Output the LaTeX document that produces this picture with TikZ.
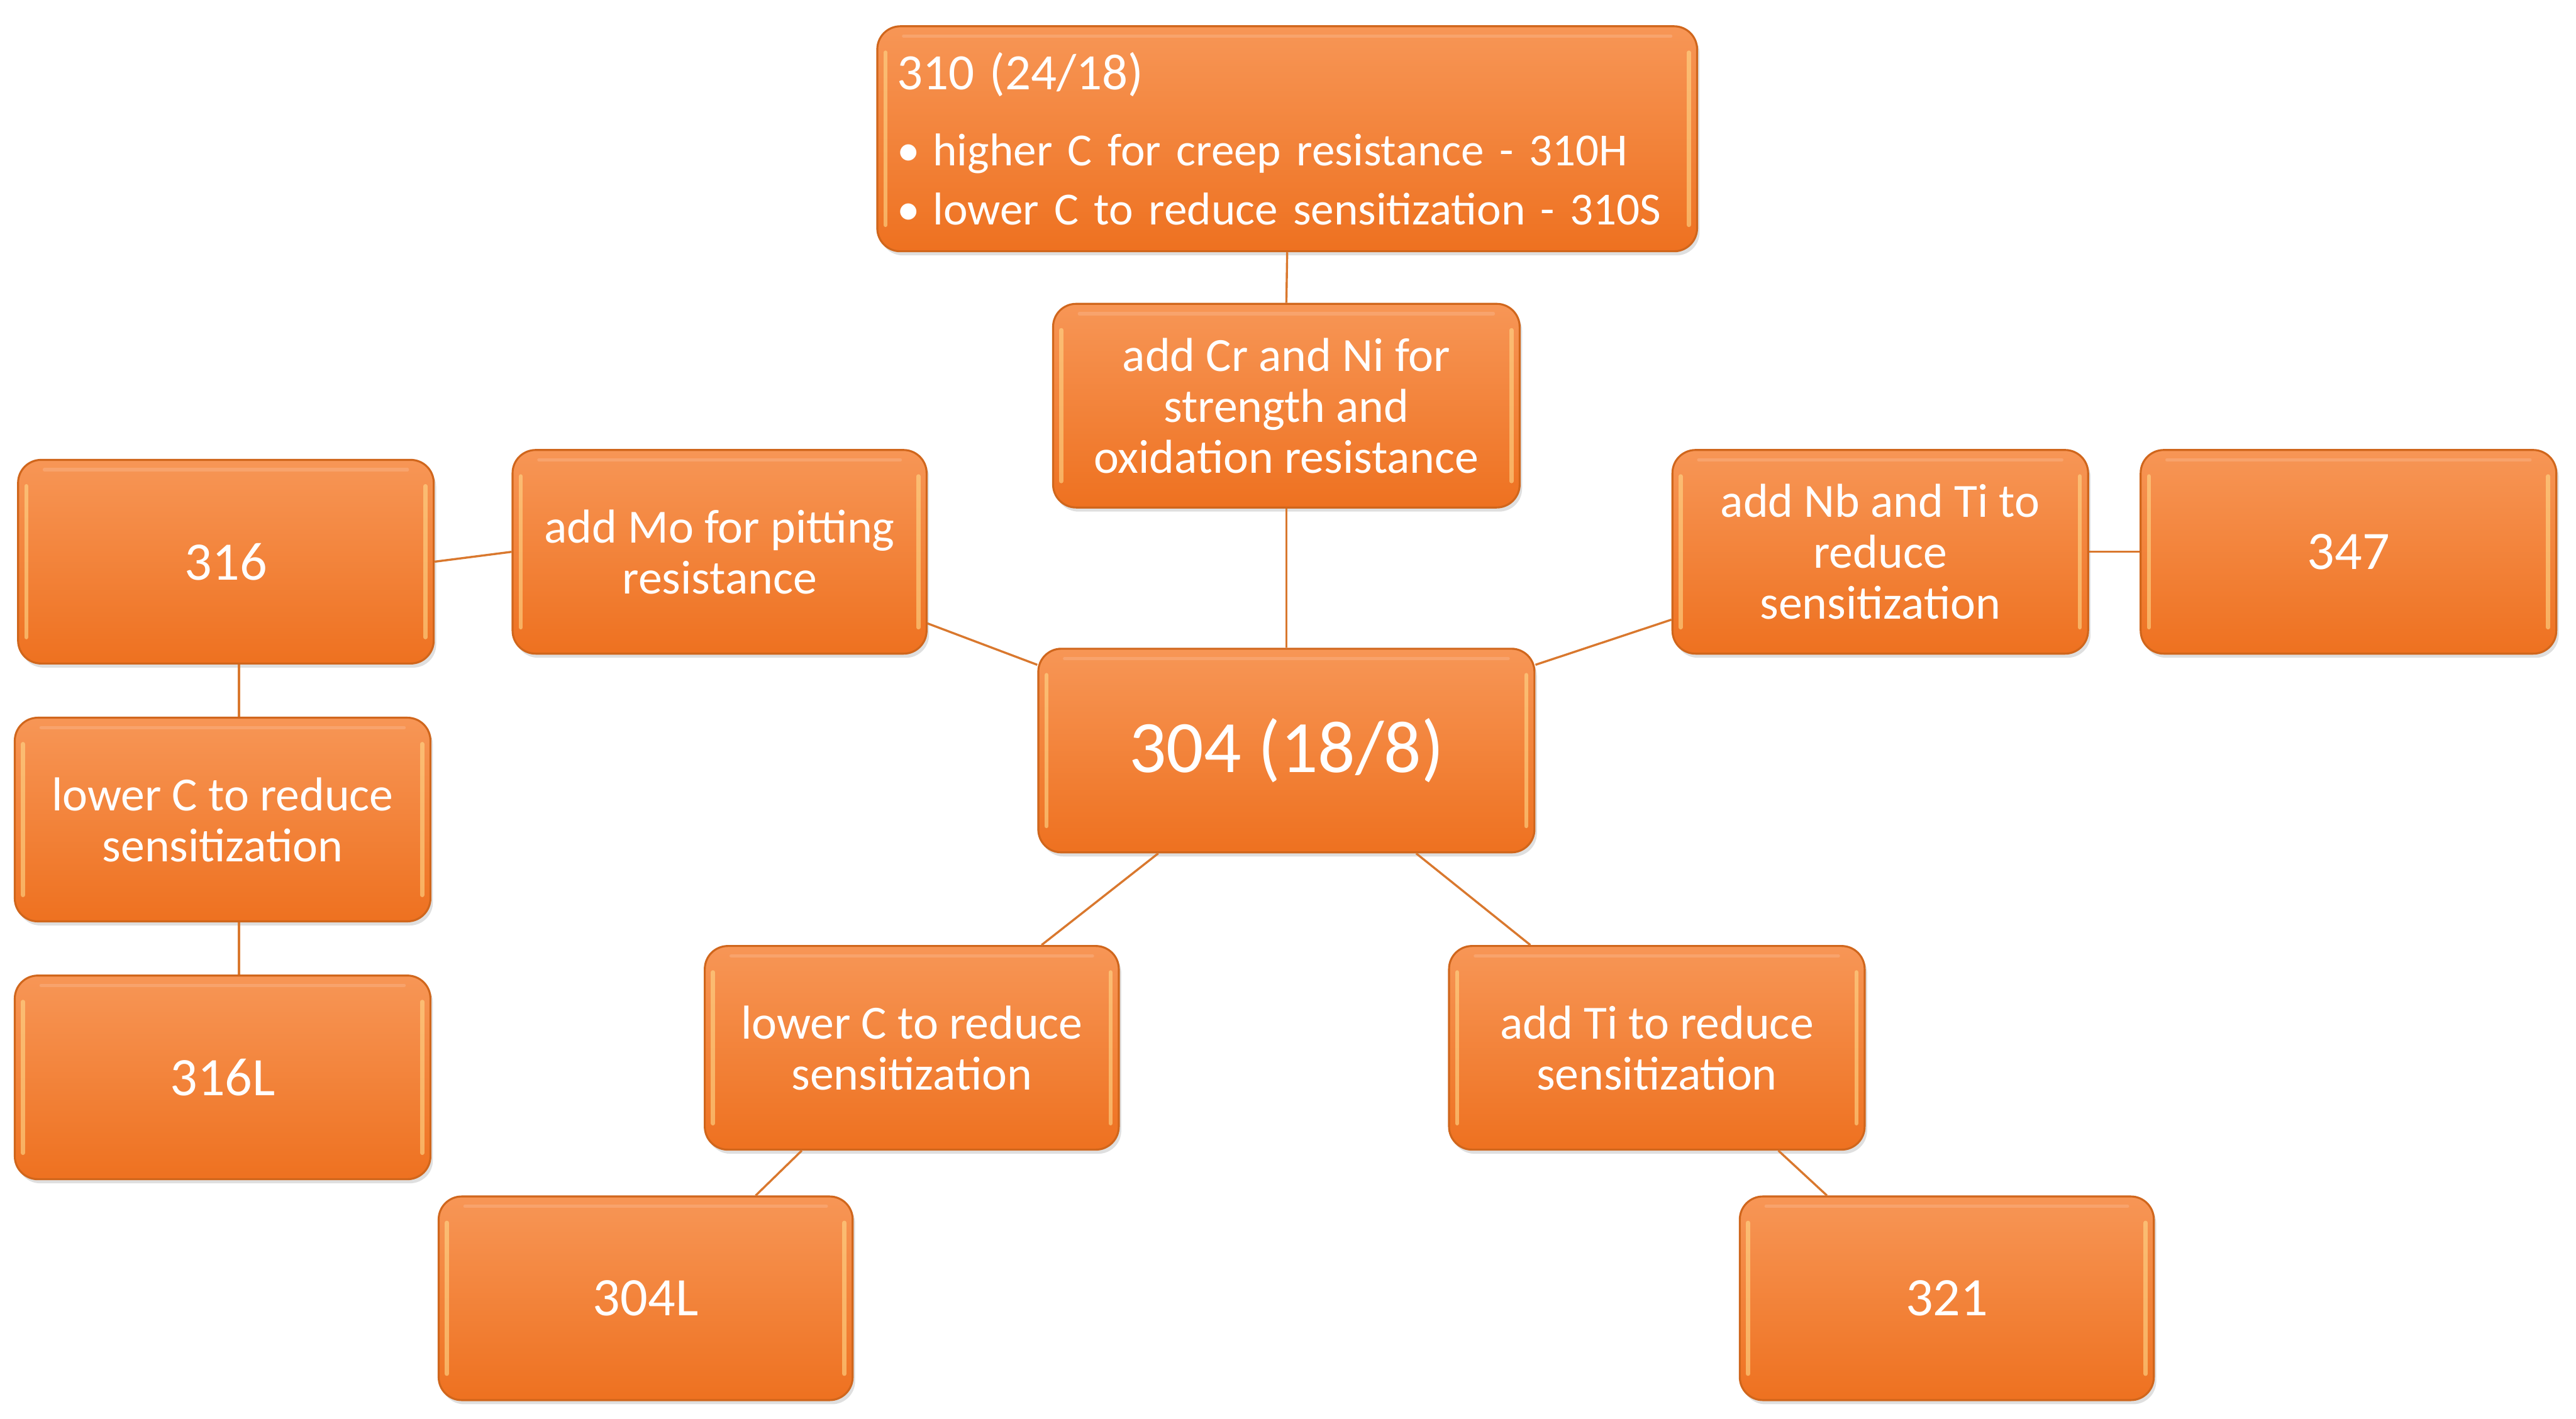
\documentclass[tikz,border=0pt]{standalone}
\usepackage{fontspec}
\setmainfont{Carlito}
\usetikzlibrary{shadows}
\definecolor{boxtop}{HTML}{F79656}
\definecolor{boxbot}{HTML}{EE7120}
\definecolor{boxedge}{HTML}{D0661C}
\definecolor{linkc}{HTML}{D9782E}
\definecolor{glow}{HTML}{FFD98A}
\begin{document}
\begin{tikzpicture}[x=1pt,y=-1pt,
  obox/.style={rounded corners=14pt, top color=boxtop, bottom color=boxbot,
    draw=boxedge, line width=1.2pt, text=white, align=center, inner sep=0pt,
    minimum width=252pt, minimum height=124pt,
    font=\fontsize{29}{31}\selectfont,
    drop shadow={shadow xshift=1.5pt, shadow yshift=-2.5pt, opacity=0.25},
    path picture={
      \draw[glow, line width=2.5pt, opacity=0.6, line cap=round]
        ([shift={(5pt,-16pt)}]path picture bounding box.north west) --
        ([shift={(5pt,16pt)}]path picture bounding box.south west);
      \draw[glow, line width=2.5pt, opacity=0.6, line cap=round]
        ([shift={(-5pt,-16pt)}]path picture bounding box.north east) --
        ([shift={(-5pt,16pt)}]path picture bounding box.south east);
      \draw[white, line width=2pt, opacity=0.15, line cap=round]
        ([shift={(16pt,-6pt)}]path picture bounding box.north west) --
        ([shift={(-16pt,-6pt)}]path picture bounding box.north east);
    }},
  numbox/.style={obox, font=\fontsize{33}{38}\selectfont},
  link/.style={draw=linkc, line width=1.3pt}
]
\useasboundingbox (0,0) rectangle (1568,864);

\node[obox, minimum width=499pt, minimum height=137pt, align=left, text width=475pt,
  font=\fontsize{28}{36}\selectfont] (n310) at (783.5,84.5)
  {{\fontsize{31}{36}\selectfont 310 (24/18)}\\[10pt]
   •\hspace{8pt}higher C for creep resistance - 310H\\
   •\hspace{8pt}lower C to reduce sensitization - 310S};
\node[obox, minimum width=284pt] (crni) at (783,247) {add Cr and Ni for\\strength and\\oxidation resistance};
\node[obox, minimum width=302pt, font=\fontsize{45}{50}\selectfont] (c304) at (783,457) {304 (18/8)};
\node[obox] (mo) at (438,336) {add Mo for pitting\\resistance};
\node[numbox, minimum width=253pt] (s316) at (137.5,342) {316};
\node[obox, minimum width=253pt] (lcl) at (135.5,499) {lower C to reduce\\sensitization};
\node[numbox, minimum width=253pt] (s316L) at (135.5,656) {316L};
\node[obox] (lcc) at (555,638) {lower C to reduce\\sensitization};
\node[numbox] (s304L) at (393,790.5) {304L};
\node[obox, minimum width=253pt] (ti) at (1008.5,638) {add Ti to reduce\\sensitization};
\node[numbox] (s321) at (1185,790.5) {321};
\node[obox, minimum width=253pt] (nbti) at (1144.5,336) {add Nb and Ti to\\reduce\\sensitization};
\node[numbox, minimum width=253pt] (s347) at (1429.5,336) {347};

\path[link] (n310.south) -- (crni.north);
\path[link] (crni.south) -- (c304.north);
\path[link] (c304.161) -- (mo.-19);
\path[link] (mo.west) -- (s316.east);
\path[link] ([xshift=8pt]s316.south) -- ([xshift=8pt]s316.south |- lcl.north);
\path[link] ([xshift=10pt]lcl.south) -- ([xshift=10pt]lcl.south |- s316L.north);
\path[link] ([xshift=-78pt]c304.south) -- ([xshift=79pt]lcc.north);
\path[link] ([xshift=-67pt]lcc.south) -- ([xshift=67pt]s304L.north);
\path[link] ([xshift=79pt]c304.south) -- ([xshift=-77pt]ti.north);
\path[link] ([xshift=74pt]ti.south) -- ([xshift=-73pt]s321.north);
\path[link] (c304.19) -- (nbti.198);
\path[link] (nbti.east) -- (s347.west);
\end{tikzpicture}
\end{document}
